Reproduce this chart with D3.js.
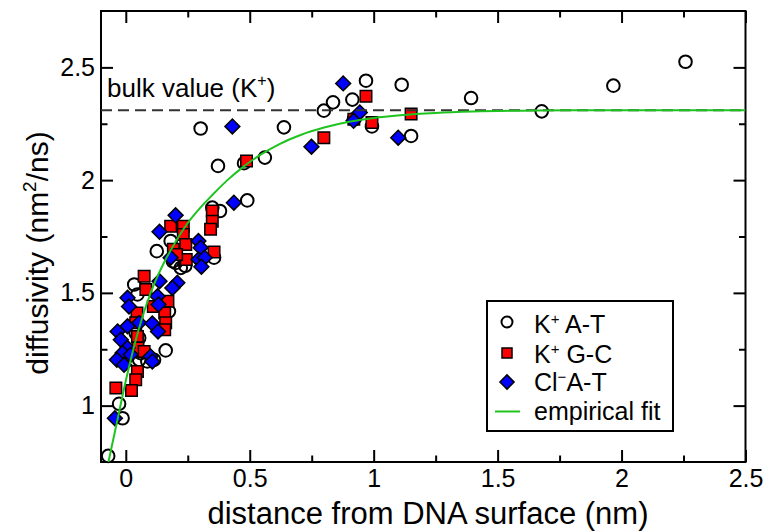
<!DOCTYPE html>
<html>
<head>
<meta charset="utf-8">
<script src="https://cdn.jsdelivr.net/npm/d3@7"></script>
<style>
  html, body { margin: 0; padding: 0; background: #fff; }
  svg { display: block; font-family: "Liberation Sans", Arial, Helvetica, sans-serif; }
</style>
</head>
<body>
<svg id="chart" width="774" height="532"></svg>
<script>
// ---------- data ----------
const kAT_x = [1.678,1.967,2.258,1.393,1.113,1.151,0.969,0.836,0.914,0.799,0.993,0.920,0.638,0.302,0.372,0.477,0.561,0.490,0.349,0.380,0.356,0.181,0.201,0.222,0.125,0.034,0.047,0.174,0.054,0.047,0.060,0.054,0.161,0.114,0.087,0.040,-0.027,-0.013,-0.071,0.190,0.240];
const kAT_y = [2.305,2.419,2.525,2.364,2.423,2.196,2.441,2.345,2.357,2.308,2.238,2.270,2.234,2.229,2.063,2.075,2.100,1.910,1.878,1.863,1.656,1.730,1.633,1.611,1.685,1.537,1.493,1.418,1.300,1.248,1.233,1.203,1.245,1.203,1.196,1.322,1.008,0.944,0.777,1.640,1.620];

const kGC_x = [0.969,0.993,0.920,1.151,0.799,0.487,0.349,0.349,0.342,0.356,0.232,0.232,0.242,0.244,0.181,0.192,0.205,0.074,0.081,0.170,0.157,0.161,0.157,0.111,0.045,0.040,0.047,0.049,0.074,0.047,0.040,0.023,-0.040];
const kGC_y = [2.372,2.256,2.270,2.293,2.188,2.085,1.863,1.818,1.782,1.681,1.796,1.759,1.715,1.648,1.796,1.693,1.670,1.574,1.515,1.463,1.411,1.367,1.337,1.440,1.411,1.367,1.307,1.256,1.240,1.151,1.115,1.067,1.078];

const clAT_x = [0.877,0.944,0.919,1.099,0.749,0.430,0.436,0.293,0.302,0.293,0.318,0.305,0.201,0.136,0.181,0.136,0.208,0.188,0.007,0.013,0.128,0.132,0.054,0.107,0.130,-0.033,0.007,-0.020,0.007,-0.013,-0.036,-0.007,0.020,0.100,0.107,-0.044];
const clAT_y = [2.429,2.300,2.263,2.188,2.148,2.238,1.900,1.730,1.700,1.648,1.656,1.616,1.844,1.771,1.656,1.552,1.545,1.522,1.478,1.440,1.485,1.448,1.367,1.364,1.329,1.329,1.352,1.292,1.256,1.233,1.203,1.181,1.226,1.218,1.196,0.944];

const fit_x = [-0.07,-0.035,0.0,0.05,0.10,0.15,0.20,0.25,0.30,0.35,0.41,0.475,0.544,0.62,0.705,0.80,0.906,1.00,1.107,1.25,1.40,1.60,1.80,2.50];
const fit_y = [0.75,0.93,1.11,1.33,1.50,1.625,1.725,1.81,1.877,1.935,2.00,2.06,2.113,2.16,2.20,2.233,2.26,2.276,2.288,2.298,2.304,2.308,2.31,2.31];

const bulkValue = 2.31;

const xMajor = [0, 0.5, 1, 1.5, 2, 2.5];
const xMajorLabels = ["0", "0.5", "1", "1.5", "2", "2.5"];
const xMinor = [0.25, 0.75, 1.25, 1.75, 2.25];
const yMajor = [1, 1.5, 2, 2.5];
const yMajorLabels = ["1", "1.5", "2", "2.5"];
const yMinor = [1.25, 1.75, 2.25];

// ---------- layout ----------
const svg = d3.select("#chart");
const L = 101, R = 745.5, T = 11, B = 462;
const x = d3.scaleLinear().domain([-0.1, 2.5]).range([L, R]);
const y = d3.scaleLinear().domain([0.75, 2.75]).range([B, T]);

const MAJ = 12, MIN = 6.5;
const tickFont = 25;

function styleAxis(g) {
  g.select(".domain").remove();
  g.selectAll(".tick line").attr("stroke", "#000").attr("stroke-width", 2);
  g.selectAll("text").attr("font-size", tickFont).attr("fill", "#000")
   .attr("font-family", '"Liberation Sans", Arial, sans-serif');
}

// bottom
svg.append("g").attr("transform", `translate(0,${B})`)
  .call(d3.axisBottom(x).tickValues(xMajor).tickSize(-MAJ).tickPadding(7)
        .tickFormat((d, i) => xMajorLabels[i]))
  .call(styleAxis);
svg.append("g").attr("transform", `translate(0,${B})`)
  .call(d3.axisBottom(x).tickValues(xMinor).tickSize(-MIN).tickFormat(""))
  .call(styleAxis);
// top
svg.append("g").attr("transform", `translate(0,${T})`)
  .call(d3.axisTop(x).tickValues(xMajor).tickSize(-MAJ).tickFormat(""))
  .call(styleAxis);
svg.append("g").attr("transform", `translate(0,${T})`)
  .call(d3.axisTop(x).tickValues(xMinor).tickSize(-MIN).tickFormat(""))
  .call(styleAxis);
// left
svg.append("g").attr("transform", `translate(${L},0)`)
  .call(d3.axisLeft(y).tickValues(yMajor).tickSize(-MAJ).tickPadding(6)
        .tickFormat((d, i) => yMajorLabels[i]))
  .call(styleAxis);
svg.append("g").attr("transform", `translate(${L},0)`)
  .call(d3.axisLeft(y).tickValues(yMinor).tickSize(-MIN).tickFormat(""))
  .call(styleAxis);
// right
svg.append("g").attr("transform", `translate(${R},0)`)
  .call(d3.axisRight(y).tickValues(yMajor).tickSize(-MAJ).tickFormat(""))
  .call(styleAxis);
svg.append("g").attr("transform", `translate(${R},0)`)
  .call(d3.axisRight(y).tickValues(yMinor).tickSize(-MIN).tickFormat(""))
  .call(styleAxis);

// frame
svg.append("rect").attr("x", L).attr("y", T).attr("width", R - L).attr("height", B - T)
  .attr("fill", "none").attr("stroke", "#000").attr("stroke-width", 2);

// ---------- data marks ----------
const plot = svg.append("g");
const circleSym = d3.symbol().type(d3.symbolCircle).size(Math.PI * 6.3 * 6.3);
const squareSym = d3.symbol().type(d3.symbolSquare).size(11.5 * 11.5);
const diamondSym = d3.symbol().type(d3.symbolSquare).size(10.5 * 10.5);

plot.append("g").selectAll("path").data(d3.range(kAT_x.length)).join("path")
  .attr("d", circleSym)
  .attr("transform", i => `translate(${x(kAT_x[i])},${y(kAT_y[i])})`)
  .attr("fill", "none").attr("stroke", "#000").attr("stroke-width", 2);

plot.append("g").selectAll("path").data(d3.range(kGC_x.length)).join("path")
  .attr("d", squareSym)
  .attr("transform", i => `translate(${x(kGC_x[i])},${y(kGC_y[i])})`)
  .attr("fill", "#ff0000").attr("stroke", "#000").attr("stroke-width", 1.5);

plot.append("g").selectAll("path").data(d3.range(clAT_x.length)).join("path")
  .attr("d", diamondSym)
  .attr("transform", i => `translate(${x(clAT_x[i])},${y(clAT_y[i])}) rotate(45)`)
  .attr("fill", "#0000ff").attr("stroke", "#000").attr("stroke-width", 1.5);

// bulk dashed line
svg.append("line")
  .attr("x1", x(-0.1)).attr("x2", x(2.5))
  .attr("y1", y(bulkValue)).attr("y2", y(bulkValue))
  .attr("stroke", "#333").attr("stroke-width", 2).attr("stroke-dasharray", "11,6");

// fit curve
svg.append("clipPath").attr("id", "clip").append("rect")
  .attr("x", L).attr("y", T).attr("width", R - L).attr("height", B - T);
svg.append("path")
  .datum(d3.range(fit_x.length))
  .attr("clip-path", "url(#clip)")
  .attr("d", d3.line().x(i => x(fit_x[i])).y(i => y(fit_y[i])).curve(d3.curveMonotoneX))
  .attr("fill", "none").attr("stroke", "#1ec31e").attr("stroke-width", 2);

// bulk label
const bl = svg.append("text").attr("x", 107).attr("y", 97).attr("font-size", 26).attr("fill", "#000");
bl.append("tspan").text("bulk value (K");
bl.append("tspan").attr("font-size", 16).attr("dy", -11).text("+");
bl.append("tspan").attr("dy", 11).text(")");

// ---------- axis titles ----------
svg.append("text").attr("x", 428).attr("y", 524).attr("text-anchor", "middle")
  .attr("font-size", 31).attr("fill", "#000").text("distance from DNA surface (nm)");

const yt = svg.append("text").attr("transform", `translate(48,253) rotate(-90)`)
  .attr("text-anchor", "middle").attr("font-size", 30).attr("fill", "#000");
yt.append("tspan").text("diffusivity (nm");
yt.append("tspan").attr("font-size", 19).attr("dy", -12).text("2");
yt.append("tspan").attr("dy", 12).text("/ns)");

// ---------- legend ----------
const lg = svg.append("g");
lg.append("rect").attr("x", 487).attr("y", 301).attr("width", 186).attr("height", 130)
  .attr("fill", "#fff").attr("stroke", "#000").attr("stroke-width", 2);

const lx = 507, tx = 534;
lg.append("path").attr("d", d3.symbol().type(d3.symbolCircle).size(Math.PI * 5.5 * 5.5))
  .attr("transform", `translate(${lx},322)`).attr("fill", "none").attr("stroke", "#000").attr("stroke-width", 2);
lg.append("path").attr("d", d3.symbol().type(d3.symbolSquare).size(10 * 10))
  .attr("transform", `translate(${lx},353)`).attr("fill", "#ff0000").attr("stroke", "#000").attr("stroke-width", 1.5);
lg.append("path").attr("d", d3.symbol().type(d3.symbolSquare).size(10 * 10))
  .attr("transform", `translate(${lx},382) rotate(45)`).attr("fill", "#0000ff").attr("stroke", "#000").attr("stroke-width", 1.5);
lg.append("line").attr("x1", 495).attr("x2", 520).attr("y1", 411.5).attr("y2", 411.5)
  .attr("stroke", "#1ec31e").attr("stroke-width", 2);

function legendText(yb, parts) {
  const t = lg.append("text").attr("x", tx).attr("y", yb).attr("font-size", 25).attr("fill", "#000");
  parts.forEach(p => {
    const s = t.append("tspan").text(p.t);
    if (p.sup) s.attr("font-size", 15).attr("dy", -9);
    if (p.down) s.attr("dy", 9);
  });
}
legendText(333, [{t: "K"}, {t: "+", sup: true}, {t: " A-T", down: true}]);
legendText(363, [{t: "K"}, {t: "+", sup: true}, {t: " G-C", down: true}]);
legendText(391, [{t: "Cl"}, {t: "\u2212", sup: true}, {t: "A-T", down: true}]);
legendText(419.5, [{t: "empirical fit"}]);
</script>
</body>
</html>
